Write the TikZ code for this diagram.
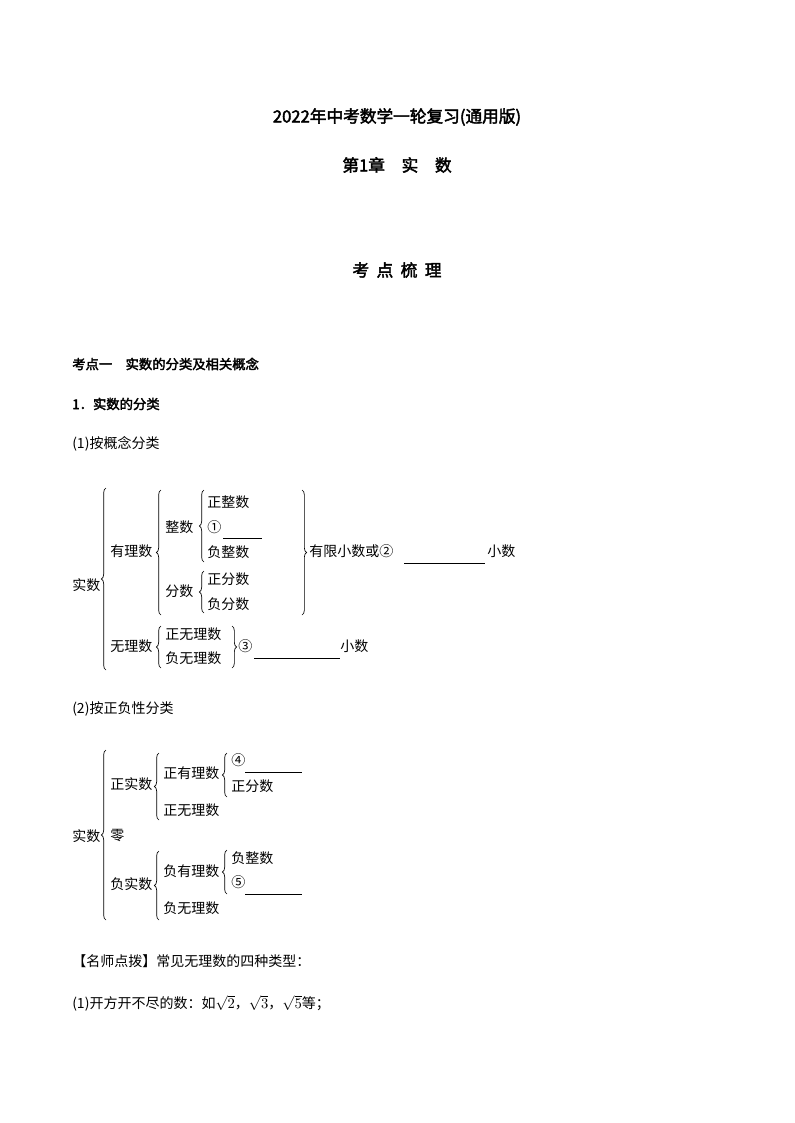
\documentclass[tikz,border=0pt]{standalone}
\usepackage{fontspec}
\setmainfont{Liberation Serif}
\newfontfamily\cjk[AutoFakeBold=2.5]{Noto Sans CJK SC}
\usetikzlibrary{decorations.pathreplacing}

\tikzset{
  lbl/.style={anchor=west, inner sep=0pt, font=\cjk\fontsize{10.5}{12}\selectfont},
  head/.style={inner sep=0pt, font=\cjk\bfseries\fontsize{12.5}{14}\selectfont},
  sub/.style={anchor=west, inner sep=0pt, font=\cjk\bfseries\fontsize{10}{12}\selectfont},
  lbrc/.style={decorate, decoration={brace, amplitude=3.5pt}, line width=0.5pt},
  rbrc/.style={decorate, decoration={brace, mirror, amplitude=3.5pt}, line width=0.5pt},
  blank/.style={line width=0.5pt}
}

\begin{document}
\begin{tikzpicture}[x=0.75pt,y=0.75pt,yscale=-1]
  \useasboundingbox (0,0) rectangle (794,1123);

  % Titles
  \node[head] (title) at (397,117) {2022年中考数学一轮复习(通用版)};
  \node[head] (chap) at (397,165) {第1章\quad 实\quad 数};
  \node[head] (kd) at (397,270) {考\ \ 点\ \ 梳\ \ 理};
  \node[sub] (kd1) at (72,364) {考点一\quad 实数的分类及相关概念};
  \node[sub] (fl) at (72,404) {1．实数的分类};
  \node[lbl] (p1) at (72,444) {(1)按概念分类};

  % Classification by concept
  \node[lbl] (ss) at (72,585) {实数};
  \draw[lbrc] (106,670) -- (106,488);
  \node[lbl] (yl) at (110,551) {有理数};
  \draw[lbrc] (161,615) -- (161,490);
  \node[lbl] (zs) at (165,527) {整数};
  \draw[lbrc] (204,562) -- (204,490);
  \node[lbl] (zzs) at (207,502) {正整数};
  \node[lbl] (c1) at (207,527) {①};
  \draw[blank] (223,538) -- (262,538);
  \node[lbl] (fzs) at (207,552) {负整数};
  \node[lbl] (fs) at (165,591) {分数};
  \draw[lbrc] (204,613) -- (204,571);
  \node[lbl] (zfs) at (207,579) {正分数};
  \node[lbl] (ffs) at (207,604) {负分数};
  \draw[rbrc] (302,615) -- (302,490);
  \node[lbl] (yx) at (309,551) {有限小数或②};
  \draw[blank] (404,563) -- (485,563);
  \node[lbl] (xs1) at (487,551) {小数};
  \node[lbl] (wl) at (110,646) {无理数};
  \draw[lbrc] (161,668) -- (161,626);
  \node[lbl] (zwl) at (165,634) {正无理数};
  \node[lbl] (fwl) at (165,658) {负无理数};
  \draw[rbrc] (232,668) -- (232,626);
  \node[lbl] (c3) at (238,646) {③};
  \draw[blank] (254,658) -- (340,658);
  \node[lbl] (xs2) at (340,646) {小数};

  % Classification by sign
  \node[lbl] (p2) at (72,709) {(2)按正负性分类};
  \node[lbl] (ss2) at (72,836) {实数};
  \draw[lbrc] (106,920) -- (106,750);
  \node[lbl] (zss) at (110,784) {正实数};
  \draw[lbrc] (159,820) -- (159,753);
  \node[lbl] (zyl) at (163,773) {正有理数};
  \draw[lbrc] (227,797) -- (227,753);
  \node[lbl] (c4) at (231,760) {④};
  \draw[blank] (245,772) -- (302,772);
  \node[lbl] (zfs2) at (231,786) {正分数};
  \node[lbl] (zwl2) at (163,810) {正无理数};
  \node[lbl] (ling) at (110,836) {零};
  \node[lbl] (fss) at (110,884) {负实数};
  \draw[lbrc] (159,920) -- (159,851);
  \node[lbl] (fyl) at (163,871) {负有理数};
  \draw[lbrc] (227,894) -- (227,850);
  \node[lbl] (fzs2) at (231,858) {负整数};
  \node[lbl] (c5) at (231,882) {⑤};
  \draw[blank] (245,894) -- (302,894);
  \node[lbl] (fwl2) at (163,908) {负无理数};

  % Notes
  \node[lbl] (tip) at (72,961) {【名师点拨】常见无理数的四种类型：};
  \node[lbl] (n1) at (72,1003) {(1)开方开不尽的数：如$\sqrt{2}$，$\sqrt{3}$，$\sqrt{5}$等；};
\end{tikzpicture}
\end{document}
